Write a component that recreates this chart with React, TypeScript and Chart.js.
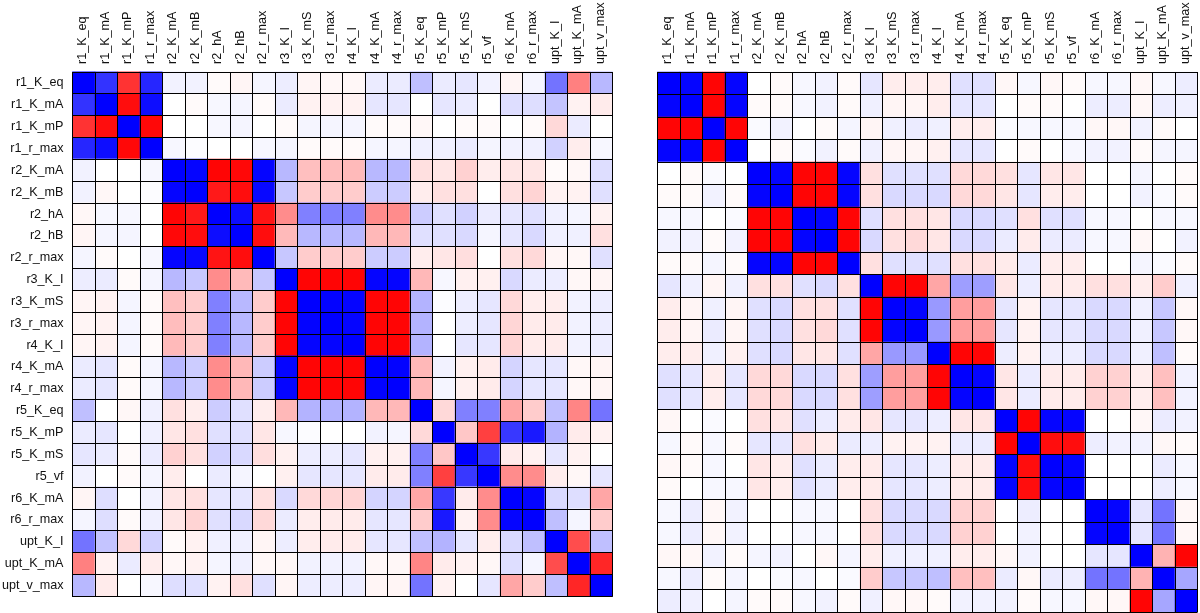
import React, { useEffect, useRef } from "react";
import { Chart, registerables } from "chart.js";

Chart.register(...registerables);

// Variable names (rows / columns of both matrices)
const variables = [
  "r1_K_eq", "r1_K_mA", "r1_K_mP", "r1_r_max",
  "r2_K_mA", "r2_K_mB", "r2_hA", "r2_hB", "r2_r_max",
  "r3_K_I", "r3_K_mS", "r3_r_max",
  "r4_K_I", "r4_K_mA", "r4_r_max",
  "r5_K_eq", "r5_K_mP", "r5_K_mS", "r5_vf",
  "r6_K_mA", "r6_r_max",
  "upt_K_I", "upt_K_mA", "upt_v_max",
];

// Left correlation matrix (rows in the order of `variables`)
const leftMatrix: number[][] = [
  [1, 0.8, -0.8, 0.85, 0.05, 0.05, -0.02, -0.04, 0.04, 0.07, -0.04, -0.03, -0.03, 0.08, 0.08, 0.25, 0.08, 0.1, 0.05, -0.04, 0.04, 0.55, -0.5, 0.28],
  [0.8, 1, -0.95, 0.95, 0, -0.02, 0.03, 0.04, -0.02, 0.08, -0.05, -0.05, -0.05, 0.1, 0.1, 0, 0.1, 0.08, 0, 0.13, 0.13, 0.23, -0.05, -0.08],
  [-0.8, -0.95, 1, -0.97, 0, 0, 0.03, 0.04, 0, -0.02, 0.04, 0.04, 0.04, -0.02, -0.02, -0.03, 0, -0.02, -0.02, 0, -0.02, -0.15, 0.08, 0],
  [0.85, 0.95, -0.97, 1, 0.03, 0.01, 0, 0, 0.03, 0.04, -0.02, -0.02, -0.02, 0.04, 0.04, 0.06, 0.06, 0.08, 0.04, 0.05, 0.06, 0.18, -0.07, 0.03],
  [0.05, 0, 0, 0.03, 1, 0.98, -0.98, -0.97, 0.98, 0.28, -0.25, -0.26, -0.27, 0.28, 0.28, -0.12, -0.1, -0.18, -0.07, -0.1, -0.1, -0.02, -0.03, 0.13],
  [0.05, -0.03, 0, 0.01, 0.98, 1, -0.9, -0.95, 0.97, 0.22, -0.2, -0.2, -0.2, 0.2, 0.2, -0.07, -0.12, -0.12, 0, -0.12, -0.17, -0.05, -0.05, 0.12],
  [-0.03, 0.03, 0.03, 0, -0.98, -0.9, 1, 0.95, -0.92, -0.45, 0.5, 0.5, 0.5, -0.45, -0.45, 0.2, 0.12, 0.18, 0.08, 0.1, 0.12, 0.06, 0.04, -0.05],
  [-0.04, 0.04, 0.04, 0, -0.97, -0.95, 0.95, 1, -0.95, -0.27, 0.28, 0.28, 0.28, -0.28, -0.28, 0.12, 0.12, 0.15, 0.04, 0.1, 0.15, 0.06, 0.06, -0.12],
  [0.04, -0.02, 0, 0.03, 0.98, 0.97, -0.92, -0.95, 1, 0.22, -0.2, -0.2, -0.2, 0.2, 0.2, -0.07, -0.1, -0.13, 0, -0.12, -0.15, -0.04, -0.03, 0.12],
  [0.07, 0.08, -0.02, 0.04, 0.28, 0.22, -0.45, -0.27, 0.22, 1, -0.98, -0.98, -0.98, 0.98, 0.98, -0.28, 0.03, -0.06, -0.06, 0.15, 0.08, 0.07, -0.03, -0.04],
  [-0.04, -0.05, 0.04, -0.02, -0.25, -0.2, 0.5, 0.28, -0.2, -0.98, 1, 0.99, 0.98, -0.98, -0.98, 0.3, 0.01, 0.07, 0.1, -0.15, -0.07, -0.07, 0.05, 0.07],
  [-0.04, -0.05, 0.04, -0.02, -0.26, -0.2, 0.5, 0.28, -0.2, -0.98, 0.99, 1, 0.98, -0.98, -0.98, 0.3, 0, 0.07, 0.1, -0.16, -0.08, -0.08, 0.05, 0.07],
  [-0.04, -0.05, 0.04, -0.02, -0.27, -0.2, 0.5, 0.28, -0.2, -0.98, 0.98, 0.98, 1, -0.98, -0.98, 0.3, 0, 0.1, 0.1, -0.17, -0.08, -0.08, 0.05, 0.07],
  [0.08, 0.1, -0.02, 0.04, 0.28, 0.2, -0.45, -0.28, 0.2, 0.98, -0.98, -0.98, -0.98, 1, 0.99, -0.28, 0.05, -0.06, -0.08, 0.17, 0.1, 0.1, -0.03, -0.04],
  [0.08, 0.1, -0.02, 0.04, 0.28, 0.2, -0.45, -0.28, 0.2, 0.98, -0.98, -0.98, -0.98, 0.99, 1, -0.28, 0.04, -0.06, -0.08, 0.17, 0.1, 0.1, -0.03, -0.04],
  [0.25, 0, -0.03, 0.06, -0.12, -0.07, 0.2, 0.12, -0.07, -0.28, 0.3, 0.3, 0.3, -0.28, -0.28, 1, -0.15, 0.5, 0.5, -0.35, -0.2, 0.25, -0.48, 0.55],
  [0.08, 0.1, 0, 0.06, -0.1, -0.12, 0.12, 0.12, -0.1, 0.03, 0.01, 0, 0, 0.05, 0.04, -0.15, 1, -0.22, -0.75, 0.78, 0.9, 0.3, -0.08, -0.05],
  [0.1, 0.08, -0.02, 0.08, -0.18, -0.12, 0.18, 0.15, -0.13, -0.06, 0.07, 0.07, 0.1, -0.06, -0.06, 0.5, -0.22, 1, 0.78, -0.08, -0.05, 0.1, -0.05, 0],
  [0.05, 0, -0.02, 0.04, -0.07, 0, 0.08, 0.04, 0, -0.06, 0.1, 0.1, 0.1, -0.08, -0.08, 0.5, -0.75, 0.78, 1, -0.45, -0.45, -0.07, -0.03, 0.1],
  [-0.04, 0.13, 0, 0.05, -0.1, -0.12, 0.1, 0.1, -0.12, 0.15, -0.15, -0.16, -0.17, 0.17, 0.17, -0.35, 0.78, -0.08, -0.45, 1, 0.98, 0.15, 0.13, -0.35],
  [0.04, 0.13, -0.02, 0.06, -0.1, -0.17, 0.12, 0.15, -0.15, 0.08, -0.07, -0.08, -0.08, 0.1, 0.1, -0.2, 0.9, -0.05, -0.45, 0.98, 1, 0.25, 0.04, -0.2],
  [0.55, 0.23, -0.15, 0.18, -0.02, -0.05, 0.06, 0.06, -0.04, 0.07, -0.07, -0.08, -0.08, 0.1, 0.1, 0.25, 0.3, 0.1, -0.07, 0.15, 0.25, 1, -0.7, 0.25],
  [-0.5, -0.05, 0.08, -0.07, -0.03, -0.05, 0.04, 0.06, -0.03, -0.03, 0.05, 0.05, 0.05, -0.03, -0.03, -0.48, -0.08, -0.05, -0.03, 0.13, 0.04, -0.7, 1, -0.85],
  [0.28, -0.08, 0, 0.03, 0.13, 0.12, -0.05, -0.12, 0.12, -0.04, 0.07, 0.07, 0.07, -0.04, -0.04, 0.55, -0.05, 0, 0.1, -0.35, -0.2, 0.25, -0.85, 1],
];

// Right correlation matrix (rows in the order of `variables`)
const rightMatrix: number[][] = [
  [1, 0.98, -0.98, 0.98, 0, -0.02, 0.03, 0.05, -0.02, 0.1, -0.07, -0.07, -0.07, 0.12, 0.12, -0.03, 0.03, -0.03, -0.02, 0.03, 0.03, -0.03, 0.03, 0.07],
  [0.98, 1, -0.98, 0.98, -0.02, -0.02, 0.03, 0.05, -0.02, 0.06, -0.04, -0.04, -0.07, 0.1, 0.1, 0, -0.02, -0.02, 0, 0.07, 0.07, -0.03, 0.07, 0.06],
  [-0.98, -0.98, 1, -0.98, 0.02, 0.05, 0, -0.02, 0.04, -0.04, 0.06, 0.08, 0.06, -0.07, -0.07, 0.02, 0.03, 0.03, 0.03, -0.03, -0.03, 0.05, -0.02, 0],
  [0.98, 0.98, -0.98, 1, 0, -0.02, 0.02, 0.05, -0.02, 0.06, -0.04, -0.04, -0.06, 0.1, 0.1, 0, -0.02, 0, 0.03, 0.05, 0.05, -0.02, 0.04, 0.04],
  [0, -0.02, 0.02, 0, 1, 0.98, -0.98, -0.98, 0.98, -0.12, 0.12, 0.12, 0.12, -0.15, -0.15, -0.12, 0.1, -0.1, -0.1, 0, 0, 0.04, 0, -0.02],
  [-0.02, -0.02, 0.05, -0.02, 0.98, 1, -0.98, -0.98, 0.98, -0.12, 0.15, 0.15, 0.15, -0.15, -0.15, -0.1, 0.1, -0.07, -0.07, 0, 0, 0.05, 0.02, -0.02],
  [0.03, 0.03, 0, 0.02, -0.98, -0.98, 1, 0.98, -0.98, 0.12, -0.12, -0.12, -0.1, 0.15, 0.15, 0.12, -0.12, 0.12, 0.12, 0.03, 0.03, 0, 0.03, 0.03],
  [0.05, 0.05, -0.02, 0.05, -0.98, -0.98, 0.98, 1, -0.98, 0.15, -0.12, -0.15, -0.1, 0.15, 0.15, 0.08, -0.08, 0.08, 0.08, 0.03, 0.03, -0.03, 0, 0.05],
  [-0.02, -0.02, 0.04, -0.02, 0.98, 0.98, -0.98, -0.98, 1, -0.12, 0.12, 0.12, 0.12, -0.12, -0.12, -0.08, 0.08, -0.07, -0.07, 0, 0, 0.04, 0.02, -0.02],
  [0.1, 0.06, -0.04, 0.06, -0.12, -0.12, 0.12, 0.15, -0.12, 1, -0.98, -0.98, -0.35, 0.38, 0.38, -0.1, 0.07, -0.08, -0.08, -0.12, -0.12, -0.07, -0.2, 0.06],
  [-0.07, -0.04, 0.06, -0.04, 0.12, 0.15, -0.12, -0.12, 0.12, -0.98, 1, 0.98, 0.4, -0.38, -0.38, 0.1, -0.05, 0.1, 0.1, 0.15, 0.15, 0.06, 0.22, -0.03],
  [-0.07, -0.04, 0.08, -0.04, 0.12, 0.15, -0.12, -0.15, 0.12, -0.98, 0.98, 1, 0.4, -0.38, -0.38, 0.1, -0.05, 0.1, 0.1, 0.15, 0.15, 0.06, 0.22, -0.03],
  [-0.07, -0.07, 0.06, -0.06, 0.12, 0.15, -0.1, -0.1, 0.12, -0.35, 0.4, 0.4, 1, -0.98, -0.98, 0.07, -0.05, 0.07, 0.07, 0.15, 0.15, 0.06, 0.25, -0.02],
  [0.12, 0.1, -0.07, 0.1, -0.15, -0.15, 0.15, 0.15, -0.12, 0.38, -0.38, -0.38, -0.98, 1, 0.98, -0.1, 0.08, -0.08, -0.08, -0.18, -0.18, -0.07, -0.25, 0.05],
  [0.12, 0.1, -0.07, 0.1, -0.15, -0.15, 0.15, 0.15, -0.12, 0.38, -0.38, -0.38, -0.98, 0.98, 1, -0.1, 0.08, -0.08, -0.08, -0.18, -0.18, -0.07, -0.25, 0.05],
  [-0.03, 0, 0.02, 0, -0.12, -0.1, 0.12, 0.08, -0.08, -0.1, 0.1, 0.1, 0.07, -0.1, -0.1, 1, -0.98, 0.98, 0.98, 0, 0, -0.03, 0.08, 0.05],
  [0.03, -0.02, 0.03, -0.02, 0.1, 0.1, -0.12, -0.08, 0.08, 0.07, -0.05, -0.05, -0.05, 0.08, 0.08, -0.98, 1, -0.95, -0.95, 0.07, 0.05, 0.05, -0.03, -0.02],
  [-0.03, -0.02, 0.03, 0, -0.1, -0.07, 0.12, 0.08, -0.07, -0.08, 0.1, 0.1, 0.07, -0.08, -0.08, 0.98, -0.95, 1, 0.98, 0, 0, 0, 0.08, 0.03],
  [-0.02, 0, 0.03, 0.03, -0.1, -0.07, 0.12, 0.08, -0.07, -0.08, 0.1, 0.1, 0.07, -0.08, -0.08, 0.98, -0.95, 0.98, 1, 0, 0, 0, 0.07, 0.03],
  [0.03, 0.07, -0.03, 0.05, 0, 0, 0.03, 0.03, 0, -0.12, 0.15, 0.15, 0.15, -0.18, -0.18, 0, 0.07, 0, 0, 1, 0.98, 0.1, 0.55, -0.03],
  [0.03, 0.07, -0.03, 0.05, 0, 0, 0.03, 0.03, 0, -0.12, 0.15, 0.15, 0.15, -0.18, -0.18, 0, 0.05, 0, 0, 0.98, 1, 0.1, 0.55, -0.03],
  [-0.03, -0.03, 0.05, -0.02, 0.04, 0.05, 0, -0.03, 0.04, -0.07, 0.06, 0.06, 0.06, -0.07, -0.07, -0.03, 0.05, 0, 0, 0.1, 0.1, 1, -0.3, -0.98],
  [0.03, 0.07, -0.02, 0.04, 0, 0.02, 0.03, 0, 0.02, -0.2, 0.22, 0.22, 0.25, -0.25, -0.25, 0.08, -0.03, 0.08, 0.07, 0.55, 0.55, -0.3, 1, 0.35],
  [0.07, 0.06, 0, 0.04, -0.02, -0.02, 0.03, 0.05, -0.02, 0.06, -0.03, -0.03, -0.02, 0.05, 0.05, 0.05, -0.02, 0.03, 0.03, -0.03, -0.03, -0.98, 0.35, 1],
];

function corrColor(v: number): string {
  const t = Math.max(-1, Math.min(1, v));
  if (t >= 0) {
    const c = Math.round(255 * (1 - t));
    return `rgb(${c},${c},255)`;
  }
  const c = Math.round(255 * (1 + t));
  return `rgb(255,${c},${c})`;
}

const FONT = { family: "'Liberation Sans', Arial, Helvetica, sans-serif", size: 12.6 };

type HeatmapProps = {
  matrix: number[][];
  showRowLabels: boolean;
  left: number;
  width: number;
  yAxisWidth: number;
  padRight: number;
};

function Heatmap({ matrix, showRowLabels, left, width, yAxisWidth, padRight }: HeatmapProps) {
  const ref = useRef<HTMLCanvasElement | null>(null);
  useEffect(() => {
    if (!ref.current) return;
    const points: { x: string; y: string; v: number }[] = [];
    matrix.forEach((row, i) =>
      row.forEach((v, j) => points.push({ x: variables[j], y: variables[i], v }))
    );
    const cellRadius = (ctx: any) => {
      const a = ctx.chart.chartArea;
      if (!a) return 0;
      const cell = (a.right - a.left) / variables.length;
      return (cell + 0.6) * Math.SQRT1_2;
    };
    const chart = new Chart(ref.current, {
      type: "scatter",
      data: {
        datasets: [
          {
            data: points as any,
            pointStyle: "rect",
            pointRadius: cellRadius,
            pointHoverRadius: cellRadius,
            pointBorderWidth: 0,
            pointHoverBorderWidth: 0,
            pointBackgroundColor: (ctx: any) => corrColor(ctx.raw ? ctx.raw.v : 0),
            pointHoverBackgroundColor: (ctx: any) => corrColor(ctx.raw ? ctx.raw.v : 0),
            showLine: false,
          } as any,
        ],
      },
      options: {
        animation: false,
        responsive: false,
        maintainAspectRatio: false,
        events: [],
        layout: { padding: { left: 0, top: 0, right: padRight, bottom: 1 } },
        plugins: { legend: { display: false }, tooltip: { enabled: false } },
        scales: {
          x: {
            type: "category",
            labels: variables,
            position: "top",
            offset: true,
            grid: { offset: true, color: "#000", lineWidth: 1, drawTicks: false, z: 1 },
            border: { display: true, color: "#000", width: 1, z: 1 },
            ticks: {
              autoSkip: false,
              minRotation: 90,
              maxRotation: 90,
              padding: 8,
              labelOffset: 14,
              color: "#111",
              font: FONT,
            },
            afterFit: (s: any) => {
              s.height = 72;
            },
          } as any,
          y: {
            type: "category",
            labels: variables,
            position: "left",
            offset: true,
            grid: { offset: true, color: "#000", lineWidth: 1, drawTicks: false, z: 1 },
            border: { display: true, color: "#000", width: 1, z: 1 },
            ticks: {
              display: showRowLabels,
              autoSkip: false,
              padding: 9,
              color: "#111",
              font: FONT,
            },
            afterFit: (s: any) => {
              s.width = yAxisWidth;
            },
          } as any,
        },
      },
    });
    return () => chart.destroy();
  }, []);
  return (
    <canvas
      ref={ref}
      width={width}
      height={613}
      style={{ position: "absolute", left, top: 0, width, height: 613 }}
    />
  );
}

export default function App() {
  return (
    <div
      style={{
        position: "absolute",
        left: 0,
        top: 0,
        width: 1200,
        height: 613,
        background: "#fff",
        overflow: "hidden",
      }}
    >
      <Heatmap matrix={leftMatrix} showRowLabels={true} left={0} width={620} yAxisWidth={72.5} padRight={7.5} />
      <Heatmap matrix={rightMatrix} showRowLabels={false} left={630} width={570} yAxisWidth={27.5} padRight={2.5} />
    </div>
  );
}
